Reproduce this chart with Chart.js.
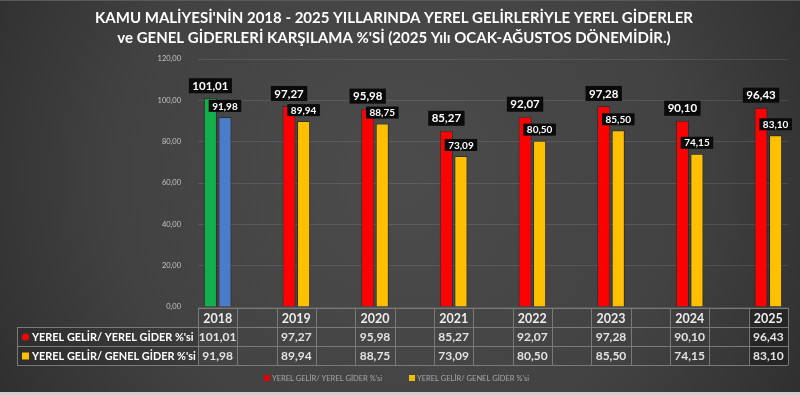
<!DOCTYPE html>
<html><head><meta charset="utf-8">
<style>html,body{margin:0;padding:0;background:#2e2e2e;overflow:hidden}canvas{display:block}</style>
<script src="https://cdn.jsdelivr.net/npm/chart.js@4.4.1/dist/chart.umd.min.js"></script>
</head><body>
<canvas id="c" width="800" height="395"></canvas>
<script>
const titleLines = ["KAMU MALİYESİ'NİN 2018 - 2025 YILLARINDA YEREL GELİRLERİYLE YEREL GİDERLER",
                    "ve GENEL GİDERLERİ KARŞILAMA %'Sİ (2025 Yılı OCAK-AĞUSTOS DÖNEMİDİR.)"];
const years = ['2018','2019','2020','2021','2022','2023','2024','2025'];
const yerelGelirYerelGider = [101.01, 97.27, 95.98, 85.27, 92.07, 97.28, 90.10, 96.43];
const yerelGelirGenelGider = [91.98, 89.94, 88.75, 73.09, 80.50, 85.50, 74.15, 83.10];
const seriesNames = ["YEREL GELİR/ YEREL GİDER %'si", "YEREL GELİR/ GENEL GİDER %'si"];
const yMin = 0, yMax = 120, yStep = 20;

const FONT = 'Lato, "Open Sans", sans-serif';
const fmt = v => v.toFixed(2).replace('.', ',');

// slots: each year followed by an empty slot (as in the original table)
const slotLabels = [], slotA = [], slotB = [], slotYear = [];
years.forEach((y, i) => {
  slotLabels.push(y); slotA.push(yerelGelirYerelGider[i]); slotB.push(yerelGelirGenelGider[i]); slotYear.push(i);
  if (i < years.length - 1) { slotLabels.push(' '.repeat(i + 1)); slotA.push(null); slotB.push(null); slotYear.push(-1); }
});
const colA = slotYear.map(i => i === 0 ? '#12b04c' : '#ff0000');
const colB = slotYear.map(i => i === 0 ? '#4a7cc9' : '#ffc000');

const bgPlugin = {
  id: 'bg',
  beforeDraw(chart) {
    const ctx = chart.ctx, w = chart.width, h = chart.height;
    ctx.save();
    const g = ctx.createRadialGradient(w * 0.5, h * 0.45, 20, w * 0.5, h * 0.45, w * 0.62);
    g.addColorStop(0, '#4b4b4b');
    g.addColorStop(0.55, '#424242');
    g.addColorStop(1, '#2b2b2b');
    ctx.fillStyle = g;
    ctx.fillRect(0, 0, w, h);
    ctx.fillStyle = '#5a5a5a'; ctx.fillRect(0, 0, w, 1);
    ctx.fillStyle = '#cfcfcf'; ctx.fillRect(0, h - 3, w, 3);
    ctx.restore();
  }
};

const labelPlugin = {
  id: 'vlabels',
  afterDatasetsDraw(chart) {
    const ctx = chart.ctx;
    ctx.save();
    ctx.textAlign = 'center'; ctx.textBaseline = 'middle';
    chart.data.datasets.forEach((ds, di) => {
      const meta = chart.getDatasetMeta(di);
      const size = di === 0 ? 11.5 : 10;
      const bh = di === 0 ? 15 : 12;
      ctx.font = 'bold ' + size + 'px ' + FONT;
      meta.data.forEach((el, j) => {
        const v = ds.data[j];
        if (v === null || v === undefined) return;
        const t = fmt(v);
        const tw = ctx.measureText(t).width;
        const bw = tw + 7;
        const cx = el.x;
        const bottom = el.y - 5;
        ctx.fillStyle = '#0a0a0a';
        ctx.fillRect(cx - bw / 2, bottom - bh, bw, bh);
        ctx.fillStyle = '#ffffff';
        ctx.fillText(t, cx, bottom - bh / 2 + 0.5);
      });
    });
    ctx.restore();
  }
};

const tablePlugin = {
  id: 'table',
  afterDraw(chart) {
    const ctx = chart.ctx, xs = chart.scales.x, area = chart.chartArea;
    const n = slotLabels.length;
    const cw = (area.right - area.left) / n;
    const tLeft = 17, top0 = 308, top1 = 327, top2 = 346, top3 = 365;
    ctx.save();
    const lastC = xs.getPixelForValue(n - 1);
    ctx.fillStyle = 'rgba(20,20,20,0.45)';
    ctx.fillRect(lastC - cw / 2, top0, cw, top3 - top0);
    ctx.fillStyle = 'rgba(30,30,30,0.25)';
    ctx.fillRect(tLeft, top1, area.left - tLeft, top3 - top1);
    ctx.strokeStyle = '#7a7a7a'; ctx.lineWidth = 1;
    ctx.beginPath();
    ctx.moveTo(area.left, top0 + 0.5); ctx.lineTo(area.right, top0 + 0.5);
    [top1, top2, top3].forEach(y => { ctx.moveTo(tLeft, y + 0.5); ctx.lineTo(area.right, y + 0.5); });
    ctx.moveTo(tLeft + 0.5, top1); ctx.lineTo(tLeft + 0.5, top3);
    for (let k = 0; k <= n; k++) {
      const x = Math.round(area.left + k * cw) + 0.5;
      ctx.moveTo(x, top0); ctx.lineTo(x, top3);
    }
    ctx.stroke();
    ctx.textAlign = 'center'; ctx.textBaseline = 'middle';
    slotYear.forEach((yi, s) => {
      if (yi < 0) return;
      const cx = xs.getPixelForValue(s);
      ctx.font = 'bold 12.5px ' + FONT; ctx.fillStyle = '#ececec';
      ctx.fillText(years[yi], cx, (top0 + top1) / 2 + 1);
      ctx.font = 'bold 12px ' + FONT; ctx.fillStyle = '#e2e2e2';
      ctx.fillText(fmt(yerelGelirYerelGider[yi]), cx, (top1 + top2) / 2 + 1);
      ctx.fillText(fmt(yerelGelirGenelGider[yi]), cx, (top2 + top3) / 2 + 1);
    });
    ctx.textAlign = 'left';
    ctx.fillStyle = '#ff0000';
    ctx.beginPath(); ctx.arc(25.5, (top1 + top2) / 2 + 0.5, 3.5, 0, Math.PI * 2); ctx.fill();
    ctx.fillStyle = '#ffc000';
    ctx.fillRect(22, (top2 + top3) / 2 - 3, 7, 7);
    ctx.font = 'bold 10.9px ' + FONT; ctx.fillStyle = '#ffffff';
    ctx.fillText(seriesNames[0], 32, (top1 + top2) / 2 + 1);
    ctx.fillText(seriesNames[1], 32, (top2 + top3) / 2 + 1);
    ctx.font = '7.5px ' + FONT;
    ctx.fillStyle = '#e00000'; ctx.fillRect(264, 375, 6, 6);
    ctx.fillStyle = '#a8a8a8'; ctx.fillText(seriesNames[0], 272, 378.5);
    ctx.fillStyle = '#f0c000'; ctx.fillRect(409, 375, 6, 6);
    ctx.fillStyle = '#a8a8a8'; ctx.fillText(seriesNames[1], 417, 378.5);
    ctx.restore();
  }
};

new Chart(document.getElementById('c'), {
  type: 'bar',
  data: {
    labels: slotLabels,
    datasets: [
      { label: seriesNames[0], data: slotA, backgroundColor: colA, borderColor: 'rgba(0,0,0,0.35)', borderWidth: 1 },
      { label: seriesNames[1], data: slotB, backgroundColor: colB, borderColor: 'rgba(0,0,0,0.35)', borderWidth: 1 }
    ]
  },
  options: {
    responsive: false,
    animation: false,
    devicePixelRatio: 1,
    layout: { padding: { left: 0, right: 12, top: 0, bottom: 88 } },
    datasets: { bar: { barPercentage: 0.9, categoryPercentage: 0.74 } },
    plugins: {
      legend: { display: false },
      tooltip: { enabled: false },
      title: {
        display: true,
        text: titleLines,
        color: '#ffffff',
        font: { family: FONT, size: 15, weight: 'bold', lineHeight: 1.35 },
        padding: { top: 8, bottom: 10.5 }
      }
    },
    scales: {
      x: { display: false },
      y: {
        min: yMin, max: yMax,
        afterFit(s) { s.width = 198; },
        border: { display: false },
        grid: { color: 'rgba(255,255,255,0.10)', drawTicks: false },
        ticks: { stepSize: yStep, padding: 17, color: '#c4c4c4', font: { family: FONT, size: 7.5 }, callback: v => fmt(v) }
      }
    }
  },
  plugins: [bgPlugin, labelPlugin, tablePlugin]
});
</script>
</body></html>
